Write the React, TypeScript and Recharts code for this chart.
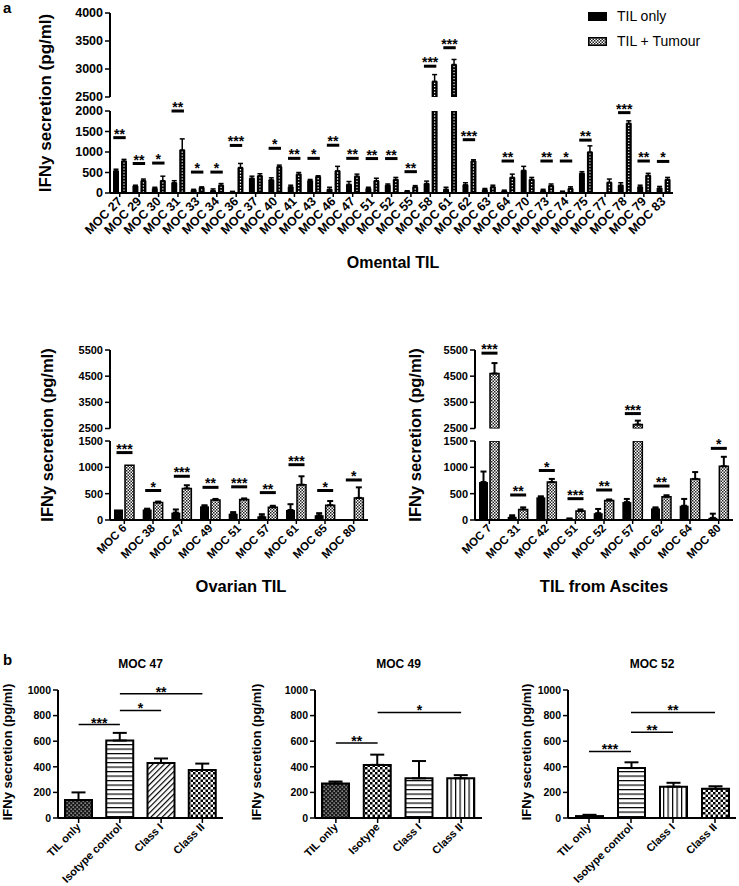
import { Bar, Cell, ComposedChart, ErrorBar, ReferenceLine, XAxis, YAxis } from "recharts";

const FONT = "'Liberation Sans', Arial, Helvetica, sans-serif";

// a) omental TIL
const omentalCats = [
  "MOC 27", "MOC 29", "MOC 30", "MOC 31", "MOC 33", "MOC 34", "MOC 36", "MOC 37", "MOC 40", "MOC 41",
  "MOC 43", "MOC 46", "MOC 47", "MOC 51", "MOC 52", "MOC 55", "MOC 58", "MOC 61", "MOC 62", "MOC 63",
  "MOC 64", "MOC 70", "MOC 73", "MOC 74", "MOC 75", "MOC 77", "MOC 78", "MOC 79", "MOC 83",
];
const omentalTil = [540, 170, 110, 250, 70, 60, 30, 360, 320, 150, 300, 90, 210, 110, 190, 40, 230, 90, 200, 80, 50, 550, 60, 30, 480, 0, 190, 150, 120];
const omentalTilErr = [40, 20, 30, 50, 20, 40, 10, 50, 50, 40, 30, 50, 70, 30, 30, 15, 60, 50, 50, 30, 20, 100, 30, 15, 40, 0, 60, 40, 40];
const omentalTum = [780, 300, 300, 1050, 130, 190, 620, 420, 640, 460, 400, 540, 410, 300, 330, 150, 2780, 3080, 780, 150, 380, 330, 180, 110, 1000, 260, 1700, 430, 330];
const omentalTumErr = [40, 40, 110, 270, 20, 40, 100, 50, 40, 40, 20, 110, 50, 60, 50, 30, 120, 90, 30, 40, 80, 50, 40, 40, 150, 80, 60, 50, 50];
const omentalSig = [1350, 720, 730, 2000, 510, 510, 1160, null, 1090, 845, 845, 1165, 845, 840, 840, 520, 3050, 3380, 1300, null, 780, null, 780, 780, 1290, null, 1960, 780, 770];
const omentalSigText = ["**", "**", "*", "**", "*", "*", "***", "", "*", "**", "*", "**", "**", "**", "**", "**", "***", "***", "***", "", "**", "", "**", "*", "**", "", "***", "**", "*"];

// a) ovarian TIL
const ovarianCats = ["MOC 6", "MOC 38", "MOC 47", "MOC 49", "MOC 51", "MOC 57", "MOC 61", "MOC 65", "MOC 80"];
const ovarianTil = [200, 200, 140, 260, 120, 70, 190, 90, 0];
const ovarianTilErr = [0, 15, 60, 20, 30, 40, 110, 40, 0];
const ovarianTum = [1040, 330, 600, 380, 390, 240, 670, 280, 420];
const ovarianTumErr = [0, 20, 60, 20, 20, 30, 160, 80, 200];
const ovarianSig = [1280, 560, 830, 620, 630, 520, 1050, 560, 760];
const ovarianSigText = ["***", "*", "***", "**", "***", "**", "***", "*", "*"];

// a) TIL from ascites
const ascitesCats = ["MOC 7", "MOC 31", "MOC 42", "MOC 51", "MOC 52", "MOC 57", "MOC 62", "MOC 64", "MOC 80"];
const ascitesTil = [720, 60, 430, 20, 130, 340, 220, 270, 40];
const ascitesTilErr = [200, 30, 20, 10, 80, 60, 20, 130, 80];
const ascitesTum = [4600, 200, 720, 170, 370, 2650, 440, 780, 1020];
const ascitesTumErr = [400, 40, 60, 30, 20, 150, 30, 130, 180];
const ascitesSig = [5380, 475, 940, 405, 570, 3070, 645, null, 1360];
const ascitesSigText = ["***", "**", "*", "***", "**", "***", "**", "", "*"];

// b) blocking
const moc47Cats = ["TIL only", "Isotype control", "Class I", "Class II"];
const moc47Vals = [140, 605, 430, 375];
const moc47Errs = [60, 60, 35, 50];
const moc47Sig = [
  { a: "TIL only", b: "Isotype control", y: 730, t: "***" },
  { a: "Isotype control", b: "Class I", y: 840, t: "*" },
  { a: "Isotype control", b: "Class II", y: 970, t: "**" },
];
const moc49Cats = ["TIL only", "Isotype", "Class I", "Class II"];
const moc49Vals = [270, 415, 310, 310];
const moc49Errs = [15, 80, 135, 25];
const moc49Sig = [
  { a: "TIL only", b: "Isotype", y: 585, t: "**" },
  { a: "Isotype", b: "Class II", y: 825, t: "*" },
];
const moc52Cats = ["TIL only", "Isotype control", "Class I", "Class II"];
const moc52Vals = [15, 390, 245, 228];
const moc52Errs = [10, 45, 30, 20];
const moc52Sig = [
  { a: "TIL only", b: "Isotype control", y: 520, t: "***" },
  { a: "Isotype control", b: "Class I", y: 670, t: "**" },
  { a: "Isotype control", b: "Class II", y: 825, t: "**" },
];

const AXIS = { stroke: "#000", strokeWidth: 2 };
const TICK = { stroke: "#000", strokeWidth: 1.5 };
const YW = 50;
const PAD = 22;
const UPB = 9; // bottom room under the upper segment for its lowest tick label

function mkGroup(cats, til, tilErr, tum, tumErr, sig, sigText) {
  return { cats, til, tilErr, tum, tumErr, sig, sigText };
}

function upperRows(g, cut, lowMax) {
  return g.cats.map((name, i) => ({
    name,
    til: g.til[i] > cut ? g.til[i] : null,
    tilErr: g.til[i] > cut && g.tilErr[i] > 0 ? [0, g.tilErr[i]] : null,
    tum: g.tum[i] > cut ? g.tum[i] : null,
    tumErr: g.tum[i] > cut && g.tumErr[i] > 0 ? [0, g.tumErr[i]] : null,
    sig: g.sig[i] != null && g.sig[i] > lowMax ? g.sig[i] : null,
    sigText: g.sigText[i],
  }));
}

function lowerRows(g, lowMax) {
  return g.cats.map((name, i) => ({
    name,
    til: Math.min(g.til[i], lowMax),
    tilErr: g.til[i] < lowMax && g.tilErr[i] > 0 ? [0, g.tilErr[i]] : null,
    tum: Math.min(g.tum[i], lowMax),
    tumErr: g.tum[i] < lowMax && g.tumErr[i] > 0 ? [0, g.tumErr[i]] : null,
    sig: g.sig[i] != null && g.sig[i] <= lowMax ? g.sig[i] : null,
    sigText: g.sigText[i],
  }));
}

function RotTick(props: any) {
  const { x, y, payload, size } = props;
  return (
    <g transform={`translate(${x},${y})`}>
      <text
        textAnchor="end"
        transform="rotate(-45)"
        fontSize={size}
        fontWeight="bold"
        fontFamily={FONT}
        fill="#000"
        dy={size * 0.35}
      >
        {payload.value}
      </text>
    </g>
  );
}

const dottedBar = (props: any) => {
  const { x, y, width, height } = props;
  if (!height || height <= 0) return <g />;
  const cx = x + width / 2;
  return (
    <g>
      <rect x={x} y={y} width={width} height={height} fill="#000" />
      <line x1={cx} x2={cx} y1={y + 1.5} y2={y + height - 1} stroke="#fff" strokeWidth={1.2} strokeDasharray="1.3 1.7" />
    </g>
  );
};

const sigShape = (inset: number, font: number, lw: number) => (props: any) => {
  const { x, y, width, payload } = props;
  if (!payload || payload.sig == null) return <g />;
  return (
    <g>
      <line x1={x + inset} x2={x + width - inset} y1={y} y2={y} stroke="#000" strokeWidth={lw} />
      <text
        x={x + width / 2}
        y={y - lw / 2 - 3.5 + font * 0.43}
        textAnchor="middle"
        fontSize={font}
        fontWeight="bold"
        fontFamily={FONT}
        fill="#000"
      >
        {payload.sigText}
      </text>
    </g>
  );
};

function Half({ rows, L, upper }: any) {
  const top = upper ? L.upTop : L.lowTop;
  const bottom = upper ? L.upBottom : L.lowBottom;
  const domain = upper ? L.upDomain : L.lowDomain;
  const xh = upper ? 0 : L.xAxisHeight;
  const mb = upper ? UPB : 0;
  const width = L.right - L.left + YW + 4;
  const height = PAD + (bottom - top) + xh + mb;
  return (
    <div style={{ position: "absolute", left: L.left - YW, top: top - PAD }}>
      <ComposedChart
        width={width}
        height={height}
        data={rows}
        margin={{ top: PAD, right: 4, bottom: mb, left: 0 }}
        barCategoryGap={L.catGap}
        barGap={2}
      >
        <XAxis
          dataKey="name"
          type="category"
          hide={upper}
          height={xh || 30}
          interval={0}
          tickSize={4}
          axisLine={AXIS}
          tickLine={TICK}
          tick={(t: any) => <RotTick {...t} size={L.xFont} />}
        />
        <XAxis xAxisId="s" dataKey="name" type="category" hide />
        <YAxis
          type="number"
          width={YW}
          domain={domain}
          ticks={upper ? L.upTicks : L.lowTicks}
          allowDataOverflow
          interval={0}
          tickSize={5}
          axisLine={AXIS}
          tickLine={TICK}
          tick={{ fontSize: L.yFont, fontWeight: "bold", fill: "#000", fontFamily: FONT }}
        />
        <YAxis yAxisId="s" type="number" domain={domain} hide />
        <Bar dataKey="til" fill="#000" isAnimationActive={false}>
          <ErrorBar dataKey="tilErr" width={L.capW} strokeWidth={L.errW} stroke="#000" direction="y" />
        </Bar>
        <Bar
          dataKey="tum"
          fill={L.tumFill}
          stroke="#000"
          strokeWidth={L.tumStroke}
          shape={L.dotted ? dottedBar : undefined}
          isAnimationActive={false}
        >
          <ErrorBar dataKey="tumErr" width={L.capW} strokeWidth={L.errW} stroke="#000" direction="y" />
        </Bar>
        <Bar
          dataKey="sig"
          xAxisId="s"
          yAxisId="s"
          isAnimationActive={false}
          shape={sigShape(L.sigInset, L.sigFont, 3)}
        />
      </ComposedChart>
    </div>
  );
}

function BrokenChart({ g, L }: any) {
  return (
    <>
      <Half rows={upperRows(g, L.upDomain[0], L.lowDomain[1])} L={L} upper />
      <Half rows={lowerRows(g, L.lowDomain[1])} L={L} upper={false} />
    </>
  );
}

function BlockChart({ left, right, title, cats, vals, errs, fills, sigs }: any) {
  const rows = cats.map((name, i) => ({ name, v: vals[i], e: [0, errs[i]] }));
  const yw = 40;
  return (
    <>
      <div
        style={{
          position: "absolute",
          left: (left + right) / 2,
          top: 664,
          transform: "translate(-50%,-50%)",
          fontFamily: FONT,
          fontWeight: "bold",
          fontSize: 12,
          whiteSpace: "nowrap",
          lineHeight: 1,
        }}
      >
        {title}
      </div>
      <div style={{ position: "absolute", left: left - yw, top: 690 - 18 }}>
        <ComposedChart
          width={right - left + yw + 3}
          height={18 + 128 + 68}
          data={rows}
          margin={{ top: 18, right: 3, bottom: 0, left: 0 }}
        >
          <XAxis
            dataKey="name"
            type="category"
            height={68}
            interval={0}
            tickSize={5}
            axisLine={AXIS}
            tickLine={TICK}
            tick={(t: any) => <RotTick {...t} size={11} />}
          />
          <YAxis
            type="number"
            width={yw}
            domain={[0, 1000]}
            ticks={[0, 200, 400, 600, 800, 1000]}
            interval={0}
            tickSize={5}
            axisLine={AXIS}
            tickLine={TICK}
            tick={{ fontSize: 10.5, fontWeight: "bold", fill: "#000", fontFamily: FONT }}
          />
          <Bar dataKey="v" barSize={27} stroke="#000" strokeWidth={2} isAnimationActive={false}>
            {rows.map((r, i) => (
              <Cell key={r.name} fill={`url(#${fills[i]})`} />
            ))}
            <ErrorBar dataKey="e" width={7} strokeWidth={2} stroke="#000" direction="y" />
          </Bar>
          {sigs.map((s) => (
            <ReferenceLine
              key={s.a + s.b}
              segment={[{ x: s.a, y: s.y }, { x: s.b, y: s.y }]}
              stroke="#000"
              strokeWidth={1.5}
              ifOverflow="visible"
              label={{ value: s.t, position: "top", offset: -3, fill: "#000", fontSize: 14, fontWeight: "bold", fontFamily: FONT }}
            />
          ))}
        </ComposedChart>
      </div>
    </>
  );
}

function VTitle({ x, y, size, children }: any) {
  return (
    <div
      style={{
        position: "absolute",
        left: x,
        top: y,
        transform: "translate(-50%,-50%) rotate(-90deg)",
        whiteSpace: "nowrap",
        fontFamily: FONT,
        fontWeight: "bold",
        fontSize: size,
        lineHeight: 1,
      }}
    >
      {children}
    </div>
  );
}

function HTitle({ x, y, size, children }: any) {
  return (
    <div
      style={{
        position: "absolute",
        left: x,
        top: y,
        transform: "translate(-50%,-50%)",
        whiteSpace: "nowrap",
        fontFamily: FONT,
        fontWeight: "bold",
        fontSize: size,
        lineHeight: 1,
      }}
    >
      {children}
    </div>
  );
}

const topLayout = {
  left: 110, right: 673,
  upTop: 13, upBottom: 97, upDomain: [2500, 4000], upTicks: [2500, 3000, 3500, 4000],
  lowTop: 111, lowBottom: 193, lowDomain: [0, 2000], lowTicks: [0, 500, 1000, 1500, 2000],
  xAxisHeight: 55, yFont: 12.5, xFont: 12.5, sigFont: 14,
  catGap: 3, tumFill: "#000", tumStroke: 0, dotted: true, capW: 2.5, errW: 1.5, sigInset: 0.3,
};
const midLayout = {
  upTop: 350, upBottom: 428.5, upDomain: [2500, 5500], upTicks: [2500, 3500, 4500, 5500],
  lowTop: 441, lowBottom: 520, lowDomain: [0, 1500], lowTicks: [0, 500, 1000, 1500],
  xAxisHeight: 50, yFont: 11, xFont: 11.5, sigFont: 14,
  catGap: 4, tumFill: "url(#pMidTum)", tumStroke: 1.5, dotted: false, capW: 3, errW: 2, sigInset: 2.5,
};

export default function App() {
  const omental = mkGroup(omentalCats, omentalTil, omentalTilErr, omentalTum, omentalTumErr, omentalSig, omentalSigText);
  const ovarian = mkGroup(ovarianCats, ovarianTil, ovarianTilErr, ovarianTum, ovarianTumErr, ovarianSig, ovarianSigText);
  const ascites = mkGroup(ascitesCats, ascitesTil, ascitesTilErr, ascitesTum, ascitesTumErr, ascitesSig, ascitesSigText);
  return (
    <div
      style={{
        position: "absolute",
        left: 0,
        top: 0,
        width: 739,
        height: 886,
        background: "#fff",
        overflow: "hidden",
        fontFamily: FONT,
        color: "#000",
      }}
    >
      <svg width={0} height={0} style={{ position: "absolute" }}>
        <defs>
          <pattern id="pMidTum" width="3" height="3" patternUnits="userSpaceOnUse">
            <rect width="3" height="3" fill="#fff" />
            <rect width="1.5" height="1.5" fill="#222" />
            <rect x="1.5" y="1.5" width="1.5" height="1.5" fill="#222" />
          </pattern>
          <pattern id="pDark" width="4" height="4" patternUnits="userSpaceOnUse">
            <rect width="4" height="4" fill="#1a1a1a" />
            <rect x="0.5" y="0.5" width="1.3" height="1.3" fill="#bbb" />
            <rect x="2.5" y="2.5" width="1.3" height="1.3" fill="#bbb" />
          </pattern>
          <pattern id="pH" width="6" height="4.5" patternUnits="userSpaceOnUse">
            <rect width="6" height="4.5" fill="#fff" />
            <rect width="6" height="1.2" fill="#000" />
          </pattern>
          <pattern id="pV" width="4.5" height="6" patternUnits="userSpaceOnUse">
            <rect width="4.5" height="6" fill="#fff" />
            <rect width="1.2" height="6" fill="#000" />
          </pattern>
          <pattern id="pDiag" width="4" height="4" patternUnits="userSpaceOnUse" patternTransform="rotate(45)">
            <rect width="4" height="4" fill="#fff" />
            <rect width="1.2" height="4" fill="#000" />
          </pattern>
          <pattern id="pCheck" width="5" height="5" patternUnits="userSpaceOnUse">
            <rect width="5" height="5" fill="#fff" />
            <rect width="2.5" height="2.5" fill="#000" />
            <rect x="2.5" y="2.5" width="2.5" height="2.5" fill="#000" />
          </pattern>
        </defs>
      </svg>

      <div style={{ position: "absolute", left: 3, top: 0, fontWeight: "bold", fontSize: 15, lineHeight: 1 }}>a</div>
      <div style={{ position: "absolute", left: 3, top: 652, fontWeight: "bold", fontSize: 15, lineHeight: 1 }}>b</div>

      {/* legend */}
      <div style={{ position: "absolute", left: 588, top: 4, fontSize: 14, lineHeight: "25px" }}>
        <div style={{ display: "flex", alignItems: "center" }}>
          <svg width={19} height={9} style={{ marginRight: 10 }}>
            <rect width={19} height={9} fill="#000" />
          </svg>
          TIL only
        </div>
        <div style={{ display: "flex", alignItems: "center" }}>
          <svg width={19} height={9} style={{ marginRight: 10 }}>
            <rect x={0.75} y={0.75} width={17.5} height={7.5} fill="url(#pMidTum)" stroke="#000" strokeWidth={1.5} />
          </svg>
          TIL + Tumour
        </div>
      </div>

      <VTitle x={45} y={103} size={17}>IFNy secretion (pg/ml)</VTitle>
      <BrokenChart g={omental} L={topLayout} />
      <HTitle x={393} y={263} size={16}>Omental TIL</HTitle>

      <VTitle x={47} y={435} size={16.5}>IFNy secretion (pg/ml)</VTitle>
      <BrokenChart g={ovarian} L={{ ...midLayout, left: 110, right: 368 }} />
      <HTitle x={241} y={586} size={16.5}>Ovarian TIL</HTitle>

      <VTitle x={415} y={435} size={16.5}>IFNy secretion (pg/ml)</VTitle>
      <BrokenChart g={ascites} L={{ ...midLayout, left: 475, right: 733 }} />
      <HTitle x={604} y={586} size={16.5}>TIL from Ascites</HTitle>

      <VTitle x={7} y={752} size={13}>IFNy secretion (pg/ml)</VTitle>
      <BlockChart
        left={58}
        right={223}
        title="MOC 47"
        cats={moc47Cats}
        vals={moc47Vals}
        errs={moc47Errs}
        fills={["pDark", "pH", "pDiag", "pCheck"]}
        sigs={moc47Sig}
      />
      <VTitle x={256} y={752} size={13}>IFNy secretion (pg/ml)</VTitle>
      <BlockChart
        left={315}
        right={482}
        title="MOC 49"
        cats={moc49Cats}
        vals={moc49Vals}
        errs={moc49Errs}
        fills={["pDark", "pCheck", "pH", "pV"]}
        sigs={moc49Sig}
      />
      <VTitle x={526} y={752} size={13}>IFNy secretion (pg/ml)</VTitle>
      <BlockChart
        left={568}
        right={736}
        title="MOC 52"
        cats={moc52Cats}
        vals={moc52Vals}
        errs={moc52Errs}
        fills={["pDark", "pH", "pV", "pCheck"]}
        sigs={moc52Sig}
      />
    </div>
  );
}
